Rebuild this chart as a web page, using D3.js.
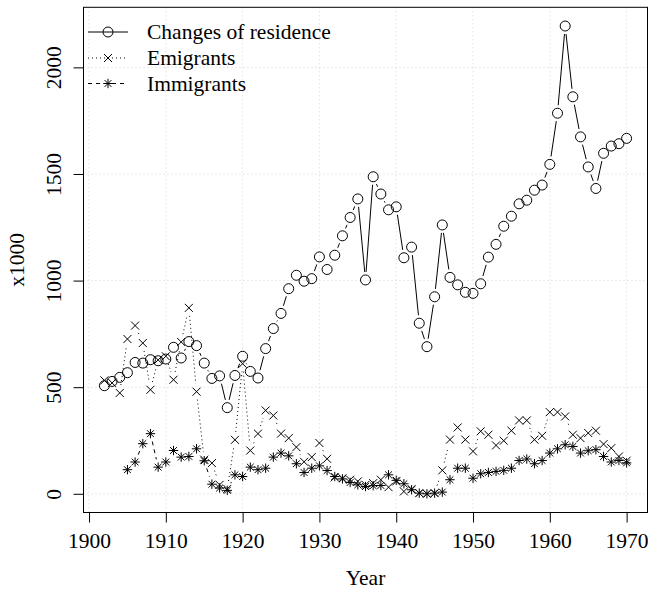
<!DOCTYPE html>
<html>
<head>
<meta charset="utf-8">
<script src="https://cdn.jsdelivr.net/npm/d3@7"></script>
<style>
  body { margin: 0; background: #fff; }
  svg text { font-family: "Liberation Serif", "Times New Roman", serif; fill: #000; }
</style>
</head>
<body>
<div id="chart"></div>
<script>
// years of the series (all end in 1970)
const years = d3.range(1902, 1971);
const immYears = d3.range(1905, 1971);

// values in thousands
const residence = [507, 527, 546, 568, 616, 613, 629, 624, 632, 687, 637, 714, 695, 613, 541, 553, 404, 555, 645, 574,
  543, 681, 775, 846, 962, 1025, 997, 1009, 1111, 1052, 1119, 1210, 1296, 1383, 1003, 1487, 1406, 1332, 1346, 1107,
  1157, 800, 690, 924, 1261, 1015, 980, 945, 940, 985, 1110, 1170, 1255, 1302, 1360, 1377, 1424, 1448, 1545, 1785,
  2194, 1862, 1674, 1533, 1432, 1597, 1631, 1642, 1667];
const emigrants = [532, 520, 473, 726, 789, 707, 488, 628, 645, 535, 712, 872, 479, 160, 144, 42, 23, 253, 610, 203,
  282, 391, 367, 282, 261, 219, 150, 172, 238, 164, 77, 73, 66, 58, 42, 50, 66, 31, 58, 11,
  22, 3, 0, 3, 110, 254, 311, 254, 199, 293, 277, 227, 249, 296, 344, 344, 254, 272, 383, 383,
  363, 277, 261, 285, 296, 233, 214, 175, 155];
const immigrants = [113, 149, 235, 282, 125, 149, 203, 172, 175, 211, 155, 45, 27, 16, 89, 81,
  125, 113, 120, 172, 191, 178, 141, 100, 120, 131, 109, 81, 70, 53, 42, 34, 38, 39, 89, 63,
  47, 19, 3, 0, 3, 8, 66, 120, 120, 73, 94, 100, 105, 110, 120, 156, 163, 141, 156, 191,
  211, 230, 222, 191, 202, 207, 175, 149, 156, 145];

const xTicks = [1900, 1910, 1920, 1930, 1940, 1950, 1960, 1970];
const yTicks = [0, 500, 1000, 1500, 2000];
const seriesNames = ["Changes of residence", "Emigrants", "Immigrants"];

const width = 648;
const height = 589;
const box = { left: 83.5, right: 647.5, top: 7.3, bottom: 512.5 };

const svg = d3.select("#chart").append("svg")
  .attr("width", width)
  .attr("height", height);

// R style 4% padding on both axes
const xMin = d3.min(years), xMax = d3.max(years);
const xPad = (xMax - xMin) * 0.04;
const yMax = d3.max([d3.max(residence), d3.max(emigrants), d3.max(immigrants)]);
const yPad = yMax * 0.04;

const x = d3.scaleLinear().domain([xMin - xPad, xMax + xPad]).range([box.left, box.right]);
const y = d3.scaleLinear().domain([-yPad, yMax + yPad]).range([box.bottom, box.top]);

// grid, dotted light grey
const grid = svg.append("g")
  .attr("stroke", "#d3d3d3")
  .attr("stroke-width", 1)
  .attr("stroke-dasharray", "1,3");
grid.selectAll(".gx").data(xTicks).join("line")
  .attr("x1", d => x(d)).attr("x2", d => x(d))
  .attr("y1", box.top).attr("y2", box.bottom);
grid.selectAll(".gy").data(yTicks).join("line")
  .attr("y1", d => y(d)).attr("y2", d => y(d))
  .attr("x1", box.left).attr("x2", box.right);

// axes
const xAxis = d3.axisBottom(x).tickValues(xTicks).tickFormat(d3.format("d")).tickSize(10);
const yAxis = d3.axisLeft(y).tickValues(yTicks).tickFormat(d3.format("d")).tickSize(10);

const gx = svg.append("g")
  .attr("transform", `translate(0,${box.bottom})`)
  .call(xAxis);
gx.select(".domain").remove();
gx.selectAll("text").attr("font-size", 21.5).attr("font-family", "Liberation Serif")
  .attr("dy", null).attr("y", 35.5);
gx.selectAll("line").attr("stroke", "#000");

const gy = svg.append("g")
  .attr("transform", `translate(${box.left},0)`)
  .call(yAxis);
gy.select(".domain").remove();
gy.selectAll("line").attr("stroke", "#000");
// rotated tick labels like R (las = 0), tick g already sits at y(d)
gy.selectAll("text")
  .attr("font-size", 21.5)
  .attr("font-family", "Liberation Serif")
  .attr("x", null).attr("dy", null)
  .attr("text-anchor", "middle")
  .attr("transform", `translate(${61 - box.left},0) rotate(-90)`);

// box
svg.append("rect")
  .attr("x", box.left).attr("y", box.top)
  .attr("width", box.right - box.left).attr("height", box.bottom - box.top)
  .attr("fill", "none").attr("stroke", "#000").attr("stroke-width", 1);

// axis titles
svg.append("text")
  .attr("x", (box.left + box.right) / 2).attr("y", 584.5)
  .attr("text-anchor", "middle").attr("font-size", 21.5)
  .text("Year");
svg.append("text")
  .attr("transform", `translate(23.5,${(box.top + box.bottom) / 2}) rotate(-90)`)
  .attr("text-anchor", "middle").attr("font-size", 21.5)
  .text("x1000");

// point symbols (pch 1, 4, 8)
const symbols = [
  g => g.append("circle").attr("r", 5).attr("fill", "none"),
  g => g.append("path").attr("d", "M-4,-4L4,4M-4,4L4,-4"),
  g => g.append("path").attr("d", "M-4.7,0L4.7,0M0,-4.7L0,4.7M-3.4,-3.4L3.4,3.4M-3.4,3.4L3.4,-3.4")
];
const dashes = [null, "1,3", "4,4"];

const series = [
  { xs: years, ys: residence },
  { xs: years, ys: emigrants },
  { xs: immYears, ys: immigrants }
];

// type = "b": segments with a gap around each point
const gap = 8;
series.forEach((s, i) => {
  const pts = s.xs.map((yr, j) => [x(yr), y(s.ys[j])]);
  const g = svg.append("g")
    .attr("stroke", "#000").attr("stroke-width", 1).attr("fill", "none");

  const segs = d3.pairs(pts).filter(([a, b]) => Math.hypot(b[0] - a[0], b[1] - a[1]) > 2 * gap);
  g.selectAll("line").data(segs).join("line")
    .attr("stroke-dasharray", dashes[i])
    .attr("x1", ([a, b]) => a[0] + (b[0] - a[0]) * gap / Math.hypot(b[0] - a[0], b[1] - a[1]))
    .attr("y1", ([a, b]) => a[1] + (b[1] - a[1]) * gap / Math.hypot(b[0] - a[0], b[1] - a[1]))
    .attr("x2", ([a, b]) => b[0] - (b[0] - a[0]) * gap / Math.hypot(b[0] - a[0], b[1] - a[1]))
    .attr("y2", ([a, b]) => b[1] - (b[1] - a[1]) * gap / Math.hypot(b[0] - a[0], b[1] - a[1]));

  g.selectAll("g.pt").data(pts).join("g")
    .attr("class", "pt")
    .attr("transform", d => `translate(${d[0]},${d[1]})`)
    .each(function () { symbols[i](d3.select(this)); });
});

// legend, no frame
const legend = svg.append("g");
const rowY = [32, 58, 83.5];
seriesNames.forEach((name, i) => {
  const row = legend.append("g").attr("transform", `translate(0,${rowY[i]})`)
    .attr("stroke", "#000").attr("fill", "none");
  row.append("line")
    .attr("x1", 88).attr("x2", 128).attr("y1", 0).attr("y2", 0)
    .attr("stroke-dasharray", dashes[i]);
  symbols[i](row.append("g").attr("transform", "translate(108,0)"));
  legend.append("text")
    .attr("x", 147).attr("y", rowY[i] + 7)
    .attr("font-size", 21.5)
    .text(name);
});
</script>
</body>
</html>
